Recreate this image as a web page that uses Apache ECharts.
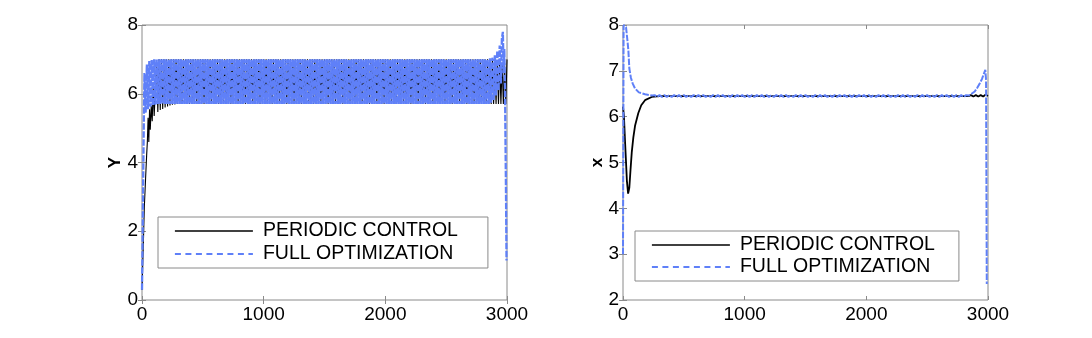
<!DOCTYPE html>
<html>
<head>
<meta charset="utf-8">
<script src="https://cdn.jsdelivr.net/npm/echarts@6/dist/echarts.min.js"></script>
<style>
html,body{margin:0;padding:0;background:#fff;}
#chart{width:1092px;height:338px;}
</style>
</head>
<body>
<div id="chart"></div>
<script>
// ---------- DATA ----------
const seriesNames = ['PERIODIC CONTROL', 'FULL OPTIMIZATION'];
const xTicks = [0, 1000, 2000, 3000];
const leftYTicks = [0, 2, 4, 6, 8];
const rightYTicks = [2, 3, 4, 5, 6, 7, 8];

// Left panel (Y) - PERIODIC CONTROL
const leftBlackStart = [[0,0.3],[10,1.5],[19,2.7],[29,3.5],[38,4.2],[44,4.6],[50,5.3],[56,4.6],[62,5.55],[68,4.95],[76,5.65],[84,5.2],[92,6.2],[100,5.35],[120,6.9],[130,5.47],[140,7.0],[150,5.53]];
const leftBlackBandStart = 160, leftBlackBandStep = 10;
const leftBlackBand = [
7.0,5.56,7.0,5.60,7.0,5.63,7.0,5.66,7.0,5.68,7.0,5.69,
7.0,5.7,7.0,5.7,7.0,5.7,7.0,5.7,7.0,5.7,7.0,5.7,7.0,5.7,7.0,5.7,7.0,5.7,7.0,5.7,
7.0,5.7,7.0,5.7,7.0,5.7,7.0,5.7,7.0,5.7,7.0,5.7,7.0,5.7,7.0,5.7,7.0,5.7,7.0,5.7,
7.0,5.7,7.0,5.7,7.0,5.7,7.0,5.7,7.0,5.7,7.0,5.7,7.0,5.7,7.0,5.7,7.0,5.7,7.0,5.7,
7.0,5.7,7.0,5.7,7.0,5.7,7.0,5.7,7.0,5.7,7.0,5.7,7.0,5.7,7.0,5.7,7.0,5.7,7.0,5.7,
7.0,5.7,7.0,5.7,7.0,5.7,7.0,5.7,7.0,5.7,7.0,5.7,7.0,5.7,7.0,5.7,7.0,5.7,7.0,5.7,
7.0,5.7,7.0,5.7,7.0,5.7,7.0,5.7,7.0,5.7,7.0,5.7,7.0,5.7,7.0,5.7,7.0,5.7,7.0,5.7,
7.0,5.7,7.0,5.7,7.0,5.7,7.0,5.7,7.0,5.7,7.0,5.7,7.0,5.7,7.0,5.7,7.0,5.7,7.0,5.7,
7.0,5.7,7.0,5.7,7.0,5.7,7.0,5.7,7.0,5.7,7.0,5.7,7.0,5.7,7.0,5.7,7.0,5.7,7.0,5.7,
7.0,5.7,7.0,5.7,7.0,5.7,7.0,5.7,7.0,5.7,7.0,5.7,7.0,5.7,7.0,5.7,7.0,5.7,7.0,5.7,
7.0,5.7,7.0,5.7,7.0,5.7,7.0,5.7,7.0,5.7,7.0,5.7,7.0,5.7,7.0,5.7,7.0,5.7,7.0,5.7,
7.0,5.7,7.0,5.7,7.0,5.7,7.0,5.7,7.0,5.7,7.0,5.7,7.0,5.7,7.0,5.7,7.0,5.7,7.0,5.7,
7.0,5.7,7.0,5.7,7.0,5.7,7.0,5.7,7.0,5.7,7.0,5.7,7.0,5.7,7.0,5.7,7.0,5.7,7.0,5.7,
7.0,5.7,7.0,5.7,7.0,5.7,7.0,5.7,7.0,5.7,7.0,5.7,7.0,5.7,7.0,5.7,7.0,5.7,7.0,5.7,
7.0];
const leftBlackEnd = [[2890,5.70],[2900,6.9],[2910,5.70],[2920,6.9],[2930,5.70],[2940,6.9],[2950,5.70],[2960,6.9],[2970,5.70],[2980,6.9],[2990,5.70],[3000,7.0]];

// Left panel (Y) - FULL OPTIMIZATION
const leftBlueStart = [[0,0.3],[5,1.8],[10,3.6],[15,5.2],[20,6.6],[30,5.45]];
const leftBlueBandStart = 40, leftBlueBandStep = 10;
const leftBlueBand = [
6.85,5.55,6.95,5.62,6.98,5.66,7.0,5.68,7.0,5.7,
7.0,5.7,7.0,5.7,7.0,5.7,7.0,5.7,7.0,5.7,7.0,5.7,7.0,5.7,7.0,5.7,7.0,5.7,7.0,5.7,
7.0,5.7,7.0,5.7,7.0,5.7,7.0,5.7,7.0,5.7,7.0,5.7,7.0,5.7,7.0,5.7,7.0,5.7,7.0,5.7,
7.0,5.7,7.0,5.7,7.0,5.7,7.0,5.7,7.0,5.7,7.0,5.7,7.0,5.7,7.0,5.7,7.0,5.7,7.0,5.7,
7.0,5.7,7.0,5.7,7.0,5.7,7.0,5.7,7.0,5.7,7.0,5.7,7.0,5.7,7.0,5.7,7.0,5.7,7.0,5.7,
7.0,5.7,7.0,5.7,7.0,5.7,7.0,5.7,7.0,5.7,7.0,5.7,7.0,5.7,7.0,5.7,7.0,5.7,7.0,5.7,
7.0,5.7,7.0,5.7,7.0,5.7,7.0,5.7,7.0,5.7,7.0,5.7,7.0,5.7,7.0,5.7,7.0,5.7,7.0,5.7,
7.0,5.7,7.0,5.7,7.0,5.7,7.0,5.7,7.0,5.7,7.0,5.7,7.0,5.7,7.0,5.7,7.0,5.7,7.0,5.7,
7.0,5.7,7.0,5.7,7.0,5.7,7.0,5.7,7.0,5.7,7.0,5.7,7.0,5.7,7.0,5.7,7.0,5.7,7.0,5.7,
7.0,5.7,7.0,5.7,7.0,5.7,7.0,5.7,7.0,5.7,7.0,5.7,7.0,5.7,7.0,5.7,7.0,5.7,7.0,5.7,
7.0,5.7,7.0,5.7,7.0,5.7,7.0,5.7,7.0,5.7,7.0,5.7,7.0,5.7,7.0,5.7,7.0,5.7,7.0,5.7,
7.0,5.7,7.0,5.7,7.0,5.7,7.0,5.7,7.0,5.7,7.0,5.7,7.0,5.7,7.0,5.7,7.0,5.7,7.0,5.7,
7.0,5.7,7.0,5.7,7.0,5.7,7.0,5.7,7.0,5.7,7.0,5.7,7.0,5.7,7.0,5.7,7.0,5.7,7.0,5.7,
7.0,5.7,7.0,5.7,7.0,5.7,7.0,5.7,7.0,5.7,7.0,5.7,7.0,5.7,7.0,5.7,7.0,5.7,7.0,5.7,
7.0,5.7,7.0,5.7,7.0,5.7,7.0,5.7,7.0,5.7,7.0,5.7,
7.03,5.74,7.05];
const leftBlueEnd = [[2890,5.82],[2900,7.12],[2910,5.95],[2920,7.25],[2930,6.1],[2940,7.4],[2950,6.3],[2958,7.6],[2966,7.8],[2972,6.6],[2978,7.3],[2984,6.0],[2988,4.5],[2992,3.0],[2996,1.15]];

// Right panel (x) - PERIODIC CONTROL
const rightBlack = [[0,6.22],[8,6.0],[16,5.5],[25,5.0],[32,4.6],[42,4.32],[52,4.45],[62,4.85],[72,5.22],[85,5.55],[99,5.8],[126,6.08],[150,6.25],[181,6.36],[236,6.43],[300,6.45],[2840,6.45],[2860,6.47],[2880,6.44],[2900,6.47],[2920,6.44],[2940,6.47],[2960,6.44],[2980,6.48],[3000,6.45]];

// Right panel (x) - FULL OPTIMIZATION
const rightBlueStart = [[0,3.0],[5,8.0],[25,7.95],[35,7.7],[44,7.45],[52,7.05],[65,6.85],[80,6.72],[98,6.62],[130,6.53],[181,6.49],[240,6.46]];
const rightBlueBandStart = 260, rightBlueBandStep = 20;
const rightBlueBand = [
6.47,6.43,6.47,6.43,6.47,6.43,6.47,6.43,6.47,6.43,
6.47,6.43,6.47,6.43,6.47,6.43,6.47,6.43,6.47,6.43,
6.47,6.43,6.47,6.43,6.47,6.43,6.47,6.43,6.47,6.43,
6.47,6.43,6.47,6.43,6.47,6.43,6.47,6.43,6.47,6.43,
6.47,6.43,6.47,6.43,6.47,6.43,6.47,6.43,6.47,6.43,
6.47,6.43,6.47,6.43,6.47,6.43,6.47,6.43,6.47,6.43,
6.47,6.43,6.47,6.43,6.47,6.43,6.47,6.43,6.47,6.43,
6.47,6.43,6.47,6.43,6.47,6.43,6.47,6.43,6.47,6.43,
6.47,6.43,6.47,6.43,6.47,6.43,6.47,6.43,6.47,6.43,
6.47,6.43,6.47,6.43,6.47,6.43,6.47,6.43,6.47,6.43,
6.47,6.43,6.47,6.43,6.47,6.43,6.47,6.43,6.47,6.43,
6.47,6.43,6.47,6.43,6.47,6.43,6.47,6.43,6.47,6.43,
6.47,6.43,6.47,6.43,6.47,6.43,6.47,6.43,6.47];
const rightBlueEnd = [[2840,6.46],[2865,6.5],[2891,6.55],[2912,6.63],[2933,6.73],[2950,6.82],[2965,6.93],[2978,7.02],[2984,6.8],[2990,2.35]];

// ---------- BUILD ----------
function band(start, step, vals){ return vals.map((v,i)=>[start + i*step, v]); }
const leftBlack = leftBlackStart.concat(band(leftBlackBandStart,leftBlackBandStep,leftBlackBand), leftBlackEnd);
const leftBlue = leftBlueStart.concat(band(leftBlueBandStart,leftBlueBandStep,leftBlueBand), leftBlueEnd);
const rightBlue = rightBlueStart.concat(band(rightBlueBandStart,rightBlueBandStep,rightBlueBand), rightBlueEnd);

const FONT = 'Liberation Sans, Arial, Helvetica, sans-serif';
const BOX = '#8a8a8a';
const BLUE = '#5f80f8';
const DASH = [6.5, 1.5];

function xAx(grid, pos, labels){
  return {
    gridIndex: grid, type:'value', position: pos, min: xTicks[0], max: xTicks[xTicks.length-1],
    interval: xTicks[1]-xTicks[0],
    axisLine:{show:false},
    axisTick:{show:true, inside:true, length:4, lineStyle:{color:BOX}},
    splitLine:{show:false},
    axisLabel:{show:labels, fontSize:19, color:'#000', fontFamily:FONT, margin:5, formatter: v => String(v)}
  };
}
function yAx(grid, pos, ticks, labels, name, gap){
  return {
    gridIndex: grid, type:'value', position: pos, min: ticks[0], max: ticks[ticks.length-1],
    interval: ticks[1]-ticks[0],
    name: labels ? name : '', nameLocation:'middle', nameGap: gap, nameMoveOverlap:false,
    nameTextStyle:{fontSize:17, fontWeight:'bold', color:'#000', fontFamily:FONT},
    axisLine:{show:false},
    axisTick:{show:true, inside:true, length:4, lineStyle:{color:BOX}},
    splitLine:{show:false},
    axisLabel:{show:labels, fontSize:19, color:'#000', fontFamily:FONT, margin:4, formatter: v => String(v)}
  };
}
function legend(left, top, padR, gap){
  return {
    orient:'vertical', left:left, top:top,
    data: [
      {name: seriesNames[0], lineStyle:{type:'solid', width:1.6}},
      {name: seriesNames[1], lineStyle:{type:[6,4.5], width:1.8}}
    ],
    itemWidth:78, itemHeight:14, itemGap:gap,
    padding:[4, padR, 4, 16],
    borderColor:BOX, borderWidth:1, backgroundColor:'#fff',
    selectedMode:false,
    itemStyle:{opacity:0},
    lineStyle:{width:1.6},
    textStyle:{fontSize:19.5, color:'#000', fontFamily:FONT, padding:[0,0,0,5]}
  };
}
function lineS(name, xi, yi, data, color, dashed, w){
  return {
    name, type:'line', xAxisIndex:xi, yAxisIndex:yi, data,
    symbol:'none', showSymbol:false, animation:false, clip:true,
    lineStyle:{color, width:w, type: dashed ? DASH : 'solid'},
    itemStyle:{color}
  };
}

const chart = echarts.init(document.getElementById('chart'), null, {renderer:'canvas'});
chart.setOption({
  backgroundColor:'#fff',
  animation:false,
  grid:[
    {left:142, top:25, width:365, height:275, show:true, borderColor:BOX, borderWidth:1, backgroundColor:'#fff'},
    {left:623, top:25, width:365, height:275, show:true, borderColor:BOX, borderWidth:1, backgroundColor:'#fff'}
  ],
  xAxis:[ xAx(0,'bottom',true), xAx(0,'top',false), xAx(1,'bottom',true), xAx(1,'top',false) ],
  yAxis:[
    yAx(0,'left',leftYTicks,true,'Y',18), yAx(0,'right',leftYTicks,false,'',0),
    yAx(1,'left',rightYTicks,true,'x',17), yAx(1,'right',rightYTicks,false,'',0)
  ],
  legend:[ legend(158,217,30,3), legend(635,231,24,2) ],
  series:[
    lineS(seriesNames[0], 0, 0, leftBlack, '#000', false, 1.1),
    lineS(seriesNames[1], 0, 0, leftBlue, BLUE, true, 2.3),
    lineS(seriesNames[0], 2, 2, rightBlack, '#000', false, 1.8),
    lineS(seriesNames[1], 2, 2, rightBlue, BLUE, true, 2.0)
  ]
});
</script>
</body>
</html>
